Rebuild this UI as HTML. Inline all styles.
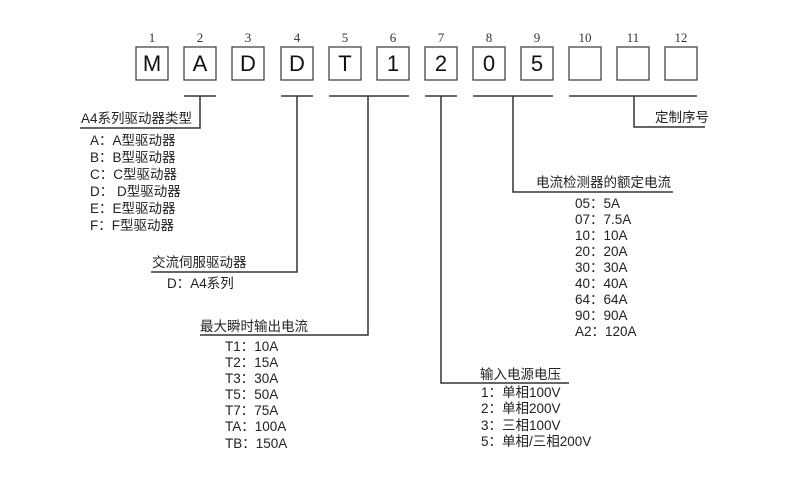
<!DOCTYPE html>
<html><head><meta charset="utf-8"><style>
html,body{margin:0;padding:0;background:#fff;}
svg{display:block;}
.n{font-family:"Liberation Serif","Noto Serif CJK SC",serif;font-size:13px;fill:#333;text-anchor:middle;}
.b{font-family:"Liberation Sans",sans-serif;font-size:22px;fill:#111;text-anchor:middle;}
.t{font-family:"Liberation Sans","Noto Sans CJK SC",sans-serif;font-size:13.5px;fill:#222;}
.l{stroke:#333;stroke-width:1.5;fill:none;}
.bx{stroke:#444;stroke-width:1.3;fill:#fff;}
</style></head><body>
<svg width="809" height="481" viewBox="0 0 809 481" xmlns="http://www.w3.org/2000/svg">
<g class="n">
<text x="152" y="42">1</text><text x="200" y="42">2</text><text x="248" y="42">3</text><text x="297" y="42">4</text>
<text x="345" y="42">5</text><text x="393" y="42">6</text><text x="441" y="42">7</text><text x="489" y="42">8</text>
<text x="537" y="42">9</text><text x="585" y="42">10</text><text x="633" y="42">11</text><text x="681" y="42">12</text>
</g>
<g class="bx">
<rect x="136" y="47" width="32" height="33"/><rect x="184" y="47" width="32" height="33"/><rect x="232" y="47" width="32" height="33"/>
<rect x="281" y="47" width="32" height="33"/><rect x="329" y="47" width="32" height="33"/><rect x="377" y="47" width="32" height="33"/>
<rect x="425" y="47" width="32" height="33"/><rect x="473" y="47" width="32" height="33"/><rect x="521" y="47" width="32" height="33"/>
<rect x="569" y="47" width="32" height="33"/><rect x="617" y="47" width="32" height="33"/><rect x="665" y="47" width="32" height="33"/>
</g>
<g class="b">
<text x="152" y="71">M</text><text x="200" y="71">A</text><text x="248" y="71">D</text><text x="297" y="71">D</text>
<text x="345" y="71">T</text><text x="393" y="71">1</text><text x="441" y="71">2</text><text x="489" y="71">0</text><text x="537" y="71">5</text>
</g>
<path class="l" d="M184 96H216M200 96V128H80"/>
<path class="l" d="M281 96H313M297 96V272H151"/>
<path class="l" d="M329 96H409M368 96V335H200"/>
<path class="l" d="M425 96H457M441 96V383H569"/>
<path class="l" d="M473 96H553M513 96V192H673"/>
<path class="l" d="M569 96H697M634 96V127H705"/>
<g class="t">
<text x="81" y="123">A4系列驱动器类型</text>
<text x="90" y="145">A：A型驱动器</text>
<text x="90" y="162">B：B型驱动器</text>
<text x="90" y="179">C：C型驱动器</text>
<text x="90" y="196">D： D型驱动器</text>
<text x="90" y="213">E：E型驱动器</text>
<text x="90" y="230">F：F型驱动器</text>

<text x="152" y="267">交流伺服驱动器</text>
<text x="167" y="288">D：A4系列</text>

<text x="200" y="331">最大瞬时输出电流</text>
<text x="225" y="351">T1：10A</text>
<text x="225" y="367">T2：15A</text>
<text x="225" y="383">T3：30A</text>
<text x="225" y="399">T5：50A</text>
<text x="225" y="415">T7：75A</text>
<text x="225" y="431">TA：100A</text>
<text x="225" y="448">TB：150A</text>

<text x="480" y="379">输入电源电压</text>
<text x="481" y="397">1：单相100V</text>
<text x="481" y="413">2：单相200V</text>
<text x="481" y="430">3：三相100V</text>
<text x="481" y="446">5：单相/三相200V</text>

<text x="536" y="187">电流检测器的额定电流</text>
<text x="575" y="208">05：5A</text>
<text x="575" y="224">07：7.5A</text>
<text x="575" y="240">10：10A</text>
<text x="575" y="256">20：20A</text>
<text x="575" y="272">30：30A</text>
<text x="575" y="288">40：40A</text>
<text x="575" y="304">64：64A</text>
<text x="575" y="320">90：90A</text>
<text x="575" y="336">A2：120A</text>

<text x="655" y="122">定制序号</text>
</g>
</svg>
</body></html>
